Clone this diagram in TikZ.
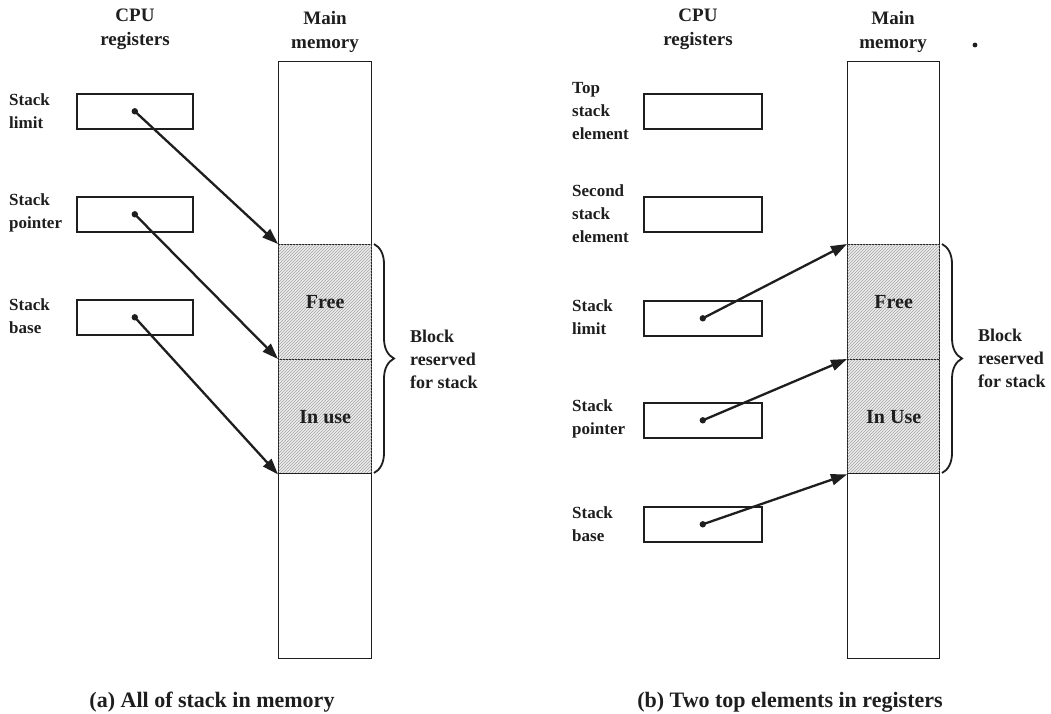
\documentclass[tikz,border=0pt]{standalone}
\usepackage{fontspec}
\setmainfont{Liberation Serif}
\usetikzlibrary{arrows.meta,patterns,decorations.pathreplacing}
\definecolor{ink}{HTML}{1E1E1E}
\begin{document}
\begin{tikzpicture}[x=1pt,y=-1pt,
  reg/.style={draw=ink, line width=1.6pt, minimum width=116pt, minimum height=35pt, inner sep=0pt, anchor=north west},
  mem/.style={draw=ink, line width=1.4pt, minimum width=93pt, inner sep=0pt, anchor=north west},
  stk/.style={mem, fill=gray!15, postaction={pattern=north east lines, pattern color=gray!70}},
  lbl/.style={font=\fontsize{17}{23}\selectfont\bfseries, align=left, anchor=west, inner sep=0pt, text=ink},
  blbl/.style={font=\fontsize{18}{23}\selectfont\bfseries, align=left, anchor=west, inner sep=0pt, text=ink},
  hdr/.style={font=\fontsize{19}{24}\selectfont\bfseries, align=center, inner sep=0pt, text=ink},
  blk/.style={font=\fontsize{20}{23}\selectfont\bfseries, inner sep=0pt, text=ink},
  captxt/.style={font=\fontsize{22}{26}\selectfont\bfseries, inner sep=0pt, anchor=base, text=ink},
  ptr/.style={draw=ink, line width=2.3pt, -{Triangle[length=16pt,width=11pt]}},
  dotc/.style={fill=ink},
  brc/.style={draw=ink, line width=1.8pt, decorate, decoration={brace, amplitude=20pt}}
]
\useasboundingbox[fill=white] (0,0) rectangle (1051,714);

% ---------------- panel (a) ----------------
\node[hdr] (hcpuA) at (135,29) {CPU\\registers};
\node[hdr] (hmemA) at (325,32) {Main\\memory};

\node[mem, minimum height=183pt] (mtA) at (278,61) {};
\node[stk, minimum height=115pt] (fA) at (278,244) {};
\node[stk, minimum height=114pt] (uA) at (278,359) {};
\node[mem, minimum height=185pt] (mbA) at (278,473) {};
\node[blk] at (fA.center) {Free};
\node[blk] at (uA.center) {In use};

\node[reg] (r1A) at (76,93) {};
\node[reg] (r2A) at (76,196) {};
\node[reg] (r3A) at (76,299) {};
\node[lbl] (l1A) at (9,111) {Stack\\limit};
\node[lbl] (l2A) at (9,213) {Stack\\pointer};
\node[lbl] (l3A) at (9,316) {Stack\\base};

\fill[dotc] (r1A.center) circle (3.2);
\fill[dotc] (r2A.center) circle (3.2);
\fill[dotc] (r3A.center) circle (3.2);
\draw[ptr] (r1A.center) -- (fA.north west);
\draw[ptr] (r2A.center) -- (uA.north west);
\draw[ptr] (r3A.center) -- (uA.south west);

\coordinate (btA) at (374,244);
\coordinate (bbA) at (374,473);
\draw[brc] (btA) -- (bbA);
\node[blbl] (bkA) at (410,359) {Block\\reserved\\for stack};

\node[captxt] (capA) at (212,707) {(a) All of stack in memory};

% ---------------- panel (b) ----------------
\node[hdr] (hcpuB) at (698,29) {CPU\\registers};
\node[hdr] (hmemB) at (893,32) {Main\\memory};
\fill[ink] (975,45) circle (2.4);

\node[mem, minimum width=92pt, minimum height=183pt] (mtB) at (847,61) {};
\node[stk, minimum width=92pt, minimum height=115pt] (fB) at (847,244) {};
\node[stk, minimum width=92pt, minimum height=114pt] (uB) at (847,359) {};
\node[mem, minimum width=92pt, minimum height=185pt] (mbB) at (847,473) {};
\node[blk] at (fB.center) {Free};
\node[blk] at (uB.center) {In Use};

\node[reg, minimum width=118pt] (r1B) at (643,93) {};
\node[reg, minimum width=118pt] (r2B) at (643,196) {};
\node[reg, minimum width=118pt] (r3B) at (643,300) {};
\node[reg, minimum width=118pt] (r4B) at (643,402) {};
\node[reg, minimum width=118pt] (r5B) at (643,506) {};
\node[lbl] (l1B) at (572,111) {Top\\stack\\element};
\node[lbl] (l2B) at (572,214) {Second\\stack\\element};
\node[lbl] (l3B) at (572,317) {Stack\\limit};
\node[lbl] (l4B) at (572,419) {Stack\\pointer};
\node[lbl] (l5B) at (572,524) {Stack\\base};

\fill[dotc] (r3B.center) circle (3.2);
\fill[dotc] (r4B.center) circle (3.2);
\fill[dotc] (r5B.center) circle (3.2);
\draw[ptr] (r3B.center) -- (fB.north west);
\draw[ptr] (r4B.center) -- (uB.north west);
\draw[ptr] (r5B.center) -- (uB.south west);

\coordinate (btB) at (942,244);
\coordinate (bbB) at (942,473);
\draw[brc] (btB) -- (bbB);
\node[blbl] (bkB) at (978,358) {Block\\reserved\\for stack};

\node[captxt] (capB) at (790,707) {(b) Two top elements in registers};
\end{tikzpicture}
\end{document}
